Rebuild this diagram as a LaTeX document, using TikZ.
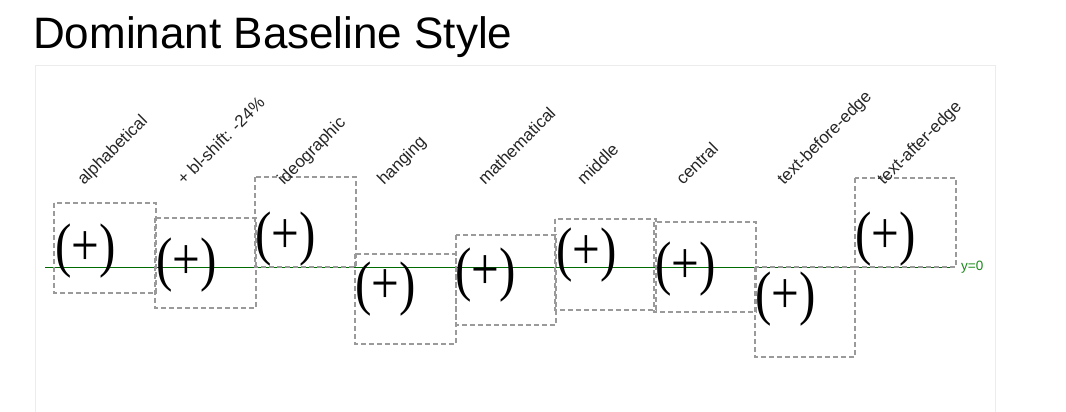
\documentclass[tikz,border=0pt]{standalone}
\usepackage{fontspec}
\setmainfont{Liberation Serif}
\setsansfont{Liberation Sans}
\usetikzlibrary{calc}

\definecolor{boxgray}{HTML}{9A9A9A}
\definecolor{panelgray}{HTML}{ECECEC}
\definecolor{zeroline}{HTML}{006B00}
\definecolor{zerotext}{HTML}{1A8A1A}

\begin{document}
\begin{tikzpicture}[x=1pt,y=-1pt,
	dbox/.style={draw=boxgray, line width=1.2pt, dash pattern=on 5pt off 3pt},
	glyph/.style={anchor=west, inner sep=0pt, font=\fontsize{60}{60}\selectfont},
	blabel/.style={anchor=base west, rotate=45, inner sep=0pt, text=black!85, font=\sffamily\fontsize{17}{17}\selectfont}]

		\useasboundingbox (0,0) rectangle (1066,412);
		\fill[white] (0,0) rectangle (1066,412);

		\node (title) [anchor=base west, inner sep=0pt, at={(33,49)}, font=\sffamily\fontsize{44}{44}\selectfont] {Dominant Baseline Style};
		\draw[panelgray, line width=1pt] (35,412) -- (35,66) -- (995,66) -- (995,412);

		% the y=0 line
		\node (zero) [anchor=west, inner sep=0pt, at={(961,267)}, text=zerotext, font=\sffamily\fontsize{13.5}{13.5}\selectfont] {y=0};
		\coordinate (lstart) at (45,267);
		\draw[zeroline, line width=0.9pt] (lstart) -- ([xshift=-6pt]zero.west);

		\draw[dbox] (54,203) rectangle (156,293);
		\draw[dbox] (155,218) rectangle (256,308);
		\draw[dbox] (255,177) rectangle (356,267);
		\draw[dbox] (355,254) rectangle (456,344);
		\draw[dbox] (456,235) rectangle (556,325);
		\draw[dbox] (555,219) rectangle (656,310);
		\draw[dbox] (654,222) rectangle (756,312);
		\draw[dbox] (755,267) rectangle (855,357);
		\draw[dbox] (855,178) rectangle (956,267);

		\node (g1) [glyph, at={(55,251)}] {\scalebox{0.82}[1]{(+)}};
		\node (g2) [glyph, at={(156,265)}] {\scalebox{0.82}[1]{(+)}};
		\node (g3) [glyph, at={(255,239)}] {\scalebox{0.82}[1]{(+)}};
		\node (g4) [glyph, at={(355,289)}] {\scalebox{0.82}[1]{(+)}};
		\node (g5) [glyph, at={(455,275)}] {\scalebox{0.82}[1]{(+)}};
		\node (g6) [glyph, at={(556,255)}] {\scalebox{0.82}[1]{(+)}};
		\node (g7) [glyph, at={(655,269)}] {\scalebox{0.82}[1]{(+)}};
		\node (g8) [glyph, at={(755,299)}] {\scalebox{0.82}[1]{(+)}};
		\node (g9) [glyph, at={(855,239)}] {\scalebox{0.82}[1]{(+)}};

		\node (l1) [blabel, at={(84,186)}] {alphabetical};
		\node (l2) [blabel, at={(184,186)}] {+ bl-shift: -24\%};
		\node (l3) [blabel, at={(284,186)}] {ideographic};
		\node (l4) [blabel, at={(384,186)}] {hanging};
		\node (l5) [blabel, at={(485,186)}] {mathematical};
		\node (l6) [blabel, at={(584,186)}] {middle};
		\node (l7) [blabel, at={(683,186)}] {central};
		\node (l8) [blabel, at={(784,186)}] {text-before-edge};
		\node (l9) [blabel, at={(884,186)}] {text-after-edge};

	\end{tikzpicture}
\end{document}
